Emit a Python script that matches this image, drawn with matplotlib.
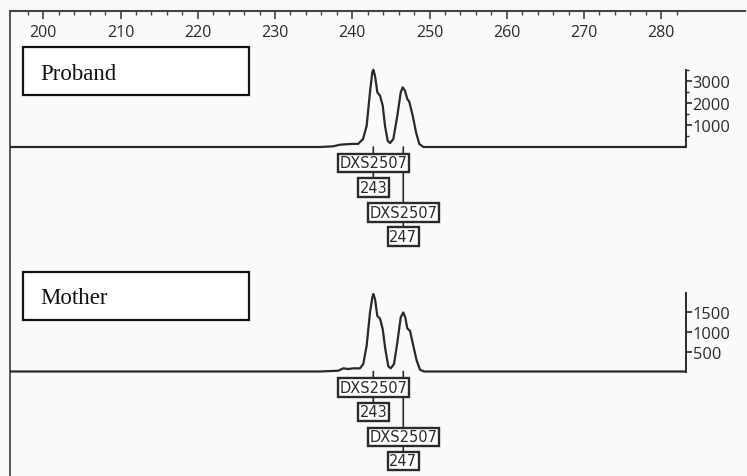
import matplotlib
matplotlib.use('Agg')
import matplotlib.pyplot as plt
from matplotlib.patches import Rectangle
from matplotlib.lines import Line2D

# ---------------- data ----------------
size_major = [200, 210, 220, 230, 240, 250, 260, 270, 280]
size_minor = list(range(198, 284, 2))

marker_name = "DXS2507"
allele_calls = ["243", "247"]
peak_sizes = [242.72, 246.60]

samples = ["Proband", "Mother"]

proband_bp = [195.69, 235.82, 237.50, 238.41, 239.92, 240.74, 241.39, 241.86, 242.29,
              242.59, 242.72, 242.94, 243.24, 243.59, 243.94, 244.23, 244.58, 244.88,
              245.31, 245.83, 246.27, 246.52, 246.82, 247.12, 247.38, 247.82, 248.25,
              248.67, 249.19, 283.20]
proband_rfu = [0, 0, 30, 105, 140, 140, 360, 968, 2500,
               3395, 3514, 3240, 2486, 2332, 1877, 968, 286, 180,
               360, 1423, 2486, 2713, 2559, 2180, 2059, 1423, 668,
               140, 0, 0]

mother_bp = [195.69, 235.82, 238.19, 238.83, 239.48, 240.13, 240.99, 241.42, 241.86,
             242.29, 242.59, 242.72, 242.94, 243.24, 243.59, 243.94, 244.27, 244.66,
             244.97, 245.40, 245.83, 246.27, 246.60, 246.86, 247.12, 247.47, 247.90,
             248.34, 248.76, 249.28, 283.20]
mother_rfu = [0, 0, 20, 80, 63, 80, 80, 190, 653,
              1494, 1873, 1962, 1835, 1405, 1342, 1070, 570, 132,
              80, 190, 739, 1372, 1494, 1372, 1091, 1030, 651,
              272, 46, 0, 0]

proband_yticks = [1000, 2000, 3000]
proband_yminor = [500, 1500, 2500, 3500]
mother_yticks = [500, 1000, 1500]

# ---------------- layout (pixels) ----------------
W, H = 747, 477
X0, X1 = 10, 686            # left / right axis pixel
TOP = 12                    # ruler line
SPLIT = 262
base_px = [148, 372.5]      # baseline pixel rows
px_per_k = [22.0, 39.5]     # pixels per 1000 RFU
spine_top = [3500, 2000]
xlim = (200 + (X0 - 43.3) / 7.725, 200 + (X1 - 43.3) / 7.725)

ink = '#2a2a2a'
fig = plt.figure(figsize=(W / 100, H / 100), dpi=100, facecolor='#fafafa')

ax1 = fig.add_axes([X0 / W, 1 - SPLIT / H, (X1 - X0) / W, (SPLIT - TOP) / H])
ax2 = fig.add_axes([X0 / W, 0, (X1 - X0) / W, (H - SPLIT) / H])
axes = [ax1, ax2]
tops = [TOP, SPLIT]
bots = [SPLIT, H]
traces = [(proband_bp, proband_rfu), (mother_bp, mother_rfu)]
yt = [proband_yticks, mother_yticks]

for i, ax in enumerate(axes):
    ax.set_facecolor('none')
    ax.set_xlim(*xlim)
    ytop = (base_px[i] - tops[i]) / px_per_k[i] * 1000
    ybot = -(bots[i] - base_px[i]) / px_per_k[i] * 1000
    ax.set_ylim(ybot, ytop)
    bp, rfu = traces[i]
    ax.plot(bp, rfu, color=ink, lw=1.6, solid_joinstyle='round', zorder=3)

    for s in ['top', 'bottom', 'right', 'left']:
        ax.spines[s].set_visible(False)
    ax.spines['left'].set_visible(True)
    ax.spines['left'].set_color('#555555')
    ax.spines['left'].set_linewidth(1.4)
    ax.spines['right'].set_visible(True)
    ax.spines['right'].set_color(ink)
    ax.spines['right'].set_linewidth(1.4)
    ax.spines['right'].set_bounds(0, spine_top[i])

    ax.yaxis.tick_right()
    ax.set_yticks(yt[i])
    ax.set_yticklabels([str(v) for v in yt[i]], fontfamily='Open Sans', fontsize=11.8, color=ink)
    ax.tick_params(axis='y', which='major', direction='out', length=4.5, width=1.2,
                   color=ink, pad=0.3, left=False, right=True)
    if i == 0:
        ax.set_yticks(proband_yminor, minor=True)
        ax.tick_params(axis='y', which='minor', direction='out', length=2.5, width=1.0,
                       color=ink, left=False, right=True)

    # annotation boxes
    marker_off = [16, 65.5]
    allele_off = [40.5, 89.5]
    for k, pos in enumerate(peak_sizes):
        ax.annotate('', xy=(pos, 0), xytext=(0, -allele_off[k] * 0.72),
                    textcoords='offset points', annotation_clip=False,
                    arrowprops=dict(arrowstyle='-', color=ink, lw=1.2, shrinkA=0, shrinkB=0),
                    zorder=2)
        ax.annotate(marker_name, xy=(pos, 0), xytext=(0, -marker_off[k] * 0.72),
                    textcoords='offset points', ha='center', va='center',
                    fontsize=10.5, color=ink, annotation_clip=False,
                    bbox=dict(boxstyle='square,pad=0.12', fc='white', ec=ink, lw=1.7),
                    zorder=5)
        ax.annotate(allele_calls[k], xy=(pos, 0), xytext=(0, -allele_off[k] * 0.72),
                    textcoords='offset points', ha='center', va='center',
                    fontsize=10.5, color=ink, annotation_clip=False,
                    bbox=dict(boxstyle='square,pad=0.12', fc='white', ec=ink, lw=1.7),
                    zorder=5)

# top ruler
ax1.spines['top'].set_visible(True)
ax1.spines['top'].set_color('#444444')
ax1.spines['top'].set_linewidth(1.5)
ax1.xaxis.tick_top()
ax1.set_xticks(size_major)
ax1.set_xticklabels([str(v) for v in size_major], fontfamily='Open Sans', fontsize=11.5, color=ink)
ax1.set_xticks(size_minor, minor=True)
ax1.tick_params(axis='x', which='major', direction='in', length=5.5, width=1.2, color='#444444',
                top=True, bottom=False, labeltop=True, labelbottom=False, pad=-15.3)
ax1.tick_params(axis='x', which='minor', direction='in', length=3.2, width=1.0, color='#444444',
                top=True, bottom=False)
for t in ax1.xaxis.get_major_ticks():
    t.label2.set_verticalalignment('center')
ax2.set_xticks([])

fig.add_artist(Line2D([X1 / W, 745 / W], [1 - TOP / H, 1 - TOP / H], transform=fig.transFigure,
                      color='#444444', lw=1.5))

# sample name boxes
box_top = [48, 273]
for i, name in enumerate(samples):
    y0 = box_top[i]
    fig.add_artist(Rectangle((23 / W, 1 - (y0 + 48) / H), 226 / W, 48 / H,
                             transform=fig.transFigure, fc='white', ec='#111111', lw=1.6))
    fig.text(40 / W, 1 - (y0 + 26) / H, name, fontfamily='Liberation Serif', fontsize=16.5,
             color='#111111', ha='left', va='center')

fig.savefig('out.png', dpi=100, facecolor=fig.get_facecolor())
